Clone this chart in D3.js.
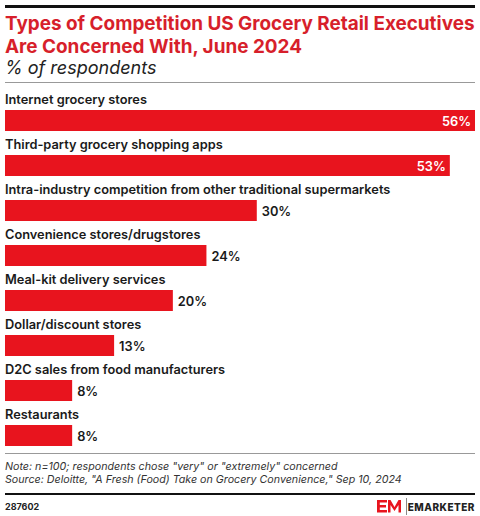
<!DOCTYPE html>
<html>
<head>
<meta charset="utf-8">
<script src="https://cdn.jsdelivr.net/npm/d3@7"></script>
<style>
  body { margin: 0; background: #fff; }
  svg { display: block; font-family: Inter, "Open Sans", sans-serif; }
</style>
</head>
<body>
<script>
// chart data
const categories = [
  "Internet grocery stores",
  "Third-party grocery shopping apps",
  "Intra-industry competition from other traditional supermarkets",
  "Convenience stores/drugstores",
  "Meal-kit delivery services",
  "Dollar/discount stores",
  "D2C sales from food manufacturers",
  "Restaurants"
];
const values = [56, 53, 30, 24, 20, 13, 8, 8];
const valueLabels = ["56%", "53%", "30%", "24%", "20%", "13%", "8%", "8%"];

const W = 480, H = 516;
const red = "#e8141e";

const svg = d3.select("body").append("svg")
    .attr("width", W)
    .attr("height", H);

// top rule
svg.append("rect").attr("x", 5).attr("y", 5).attr("width", 470).attr("height", 3).attr("fill", "#111");

// title
const title = svg.append("text")
    .attr("fill", "#d71f2b")
    .attr("font-size", 18.9)
    .attr("font-weight", 700);
title.append("tspan").attr("x", 5).attr("y", 29.5).text("Types of Competition US Grocery Retail Executives");
title.append("tspan").attr("x", 5).attr("y", 52.5).text("Are Concerned With, June 2024");

svg.append("text")
    .attr("x", 5).attr("y", 74)
    .attr("font-size", 18)
    .attr("font-style", "italic")
    .attr("fill", "#222")
    .text("% of respondents");

svg.append("rect").attr("x", 5).attr("y", 82).attr("width", 470).attr("height", 1).attr("fill", "#999");

// scales
const x = d3.scaleLinear()
    .domain([0, d3.max(values)])
    .range([0, 470]);
const y = d3.scaleBand()
    .domain(categories)
    .range([88, 448]);

const rows = svg.append("g").selectAll("g")
    .data(categories)
    .join("g")
    .attr("transform", d => `translate(5,${y(d)})`);

rows.append("text")
    .attr("x", 0).attr("y", 16)
    .attr("font-size", 12.8)
    .attr("font-weight", 600)
    .attr("fill", "#1a1a1a")
    .text(d => d);

rows.append("rect")
    .attr("x", 0).attr("y", 22)
    .attr("height", 21)
    .attr("width", (d, i) => x(values[i]))
    .attr("fill", red);

rows.append("text")
    .attr("y", 37.5)
    .attr("font-size", 12.8)
    .attr("font-weight", 600)
    .attr("x", (d, i) => values[i] > 40 ? x(values[i]) - 4 : x(values[i]) + 5)
    .attr("text-anchor", (d, i) => values[i] > 40 ? "end" : "start")
    .attr("fill", (d, i) => values[i] > 40 ? "#fff" : "#1a1a1a")
    .text((d, i) => valueLabels[i]);

// footer
svg.append("rect").attr("x", 5).attr("y", 453).attr("width", 470).attr("height", 1).attr("fill", "#999");

const note = svg.append("text")
    .attr("font-size", 10.7)
    .attr("font-style", "italic")
    .attr("fill", "#333");
note.append("tspan").attr("x", 5).attr("y", 470).text("Note: n=100; respondents chose \"very\" or \"extremely\" concerned");
note.append("tspan").attr("x", 5).attr("y", 483).text("Source: Deloitte, \"A Fresh (Food) Take on Grocery Convenience,\" Sep 10, 2024");

svg.append("rect").attr("x", 5).attr("y", 493).attr("width", 470).attr("height", 2).attr("fill", "#111");

svg.append("text")
    .attr("x", 5).attr("y", 510)
    .attr("font-size", 9)
    .attr("font-weight", 700)
    .attr("fill", "#222")
    .text("287602");

// logo mark
const logo = svg.append("g").attr("transform", "translate(377,500)");
logo.append("path")
    .attr("d", "M0,0 H10 V2.5 H2.8 V5 H9 V7.5 H2.8 V10 H10 V12.5 H0 Z")
    .attr("fill", red);
logo.append("path")
    .attr("d", "M11,12.5 V0 H13.5 L17.5,7 L21.5,0 H24 V12.5 H21.5 V5 L17.5,11 L13.5,5 V12.5 Z")
    .attr("fill", red);
logo.append("rect").attr("x", 29).attr("y", -2).attr("width", 1).attr("height", 17).attr("fill", "#888");
svg.append("text")
    .attr("x", 475).attr("y", 511)
    .attr("text-anchor", "end")
    .attr("font-size", 10)
    .attr("font-weight", 800)
    .attr("letter-spacing", 0.5)
    .attr("fill", "#222")
    .text("EMARKETER");
</script>
</body>
</html>
